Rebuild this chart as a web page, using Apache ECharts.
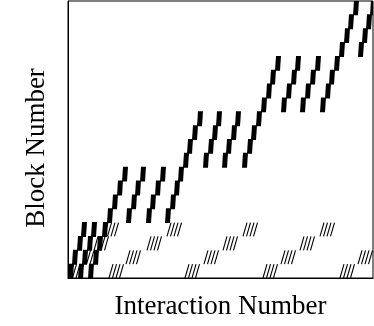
<!DOCTYPE html>
<html>
<head>
<meta charset="utf-8">
<script src="https://cdn.jsdelivr.net/npm/echarts@6/dist/echarts.min.js"></script>
<style>
  html, body { margin: 0; padding: 0; background: #fff; }
  #chart { width: 374px; height: 326px; }
</style>
</head>
<body>
<div id="chart"></div>
<script>
// thick staircases: block where each run starts, then the interaction at which each next block is hit
var runStart = [0, 0, 0, 4, 4, 4, 8, 8, 8, 12, 12, 12, 16];
var runSteps = [
  [0, 4, 9, 13],
  [10, 14, 19, 23],
  [20, 25, 29, 34, 39, 44, 49, 54],
  [58, 63, 67, 72],
  [78, 82, 87, 92],
  [97, 102, 106, 110, 115, 119, 124, 129],
  [135, 140, 144, 148],
  [154, 158, 163, 167],
  [174, 179, 183, 188, 193, 198, 202, 207],
  [213, 218, 223, 227],
  [232, 237, 242, 247],
  [252, 257, 261, 266, 271, 276, 280, 285],
  [290, 294, 298, 302]
];

// thin hits in the lowest blocks
var coldBlock0 = [1, 4.5, 8, 11.5, 41, 44.5, 48, 51.5, 117, 120.5, 124, 127.5, 195, 198.5, 202, 205.5, 272, 275.5, 279, 282.5];
var coldBlock1 = [15, 18.5, 22, 25.5, 58, 61.5, 65, 68.5, 136, 139.5, 143, 146.5, 213, 216.5, 220, 223.5, 290, 293.5, 297, 300.5];
var coldBlock2 = [26, 29.5, 33, 36.5, 79, 82.5, 86, 89.5, 155, 158.5, 162, 165.5, 232, 235.5, 239, 242.5];
var coldBlock3 = [36, 39.5, 43, 46.5, 99, 102.5, 106, 109.5, 175, 178.5, 182, 185.5, 252, 255.5, 259, 262.5];

var hot = [];
runStart.forEach(function (b, i) {
  runSteps[i].forEach(function (x, k) { hot.push([x, b + k]); });
});
var cold = [];
[coldBlock0, coldBlock1, coldBlock2, coldBlock3].forEach(function (xs, b) {
  xs.forEach(function (x) { cold.push([x, b]); });
});

var myChart = echarts.init(document.getElementById('chart'));
var font = '"Liberation Serif", "DejaVu Serif", serif';

myChart.setOption({
  animation: false,
  grid: {left: 68, right: 1, top: 1, bottom: 48, show: true, borderColor: '#000', borderWidth: 1},
  xAxis: {
    type: 'value', min: 0, max: 305,
    name: 'Interaction Number', nameLocation: 'middle', nameGap: 15,
    nameTextStyle: {fontFamily: font, fontSize: 27, color: '#000'},
    axisLine: {show: true, lineStyle: {color: '#000'}},
    axisTick: {show: false}, axisLabel: {show: false}, splitLine: {show: false}
  },
  yAxis: {
    type: 'value', min: 0, max: 20,
    name: 'Block Number', nameLocation: 'middle', nameGap: 18,
    nameTextStyle: {fontFamily: font, fontSize: 27, color: '#000', padding: [0, 17, 0, 0]},
    axisLine: {show: true, lineStyle: {color: '#000'}},
    axisTick: {show: false}, axisLabel: {show: false}, splitLine: {show: false}
  },
  series: [
    {
      type: 'custom', clip: true, data: cold,
      renderItem: function (params, api) {
        var p = api.coord([api.value(0), api.value(1)]);
        var q = api.coord([api.value(0), api.value(1) + 1]);
        return {
          type: 'line',
          shape: {x1: p[0], y1: p[1], x2: q[0] + 4, y2: q[1]},
          style: {stroke: '#000', lineWidth: 1.1}
        };
      }
    },
    {
      type: 'custom', clip: true, data: hot,
      renderItem: function (params, api) {
        var p = api.coord([api.value(0), api.value(1)]);
        var q = api.coord([api.value(0), api.value(1) + 1]);
        var w = api.size([5, 0])[0];
        return {
          type: 'polygon',
          shape: {points: [[p[0], p[1] + 0.5], [p[0] + w, p[1] + 0.5], [q[0] + w + 1, q[1] - 0.5], [q[0] + 1, q[1] - 0.5]]},
          style: {fill: '#000'}
        };
      }
    }
  ]
});
</script>
</body>
</html>
